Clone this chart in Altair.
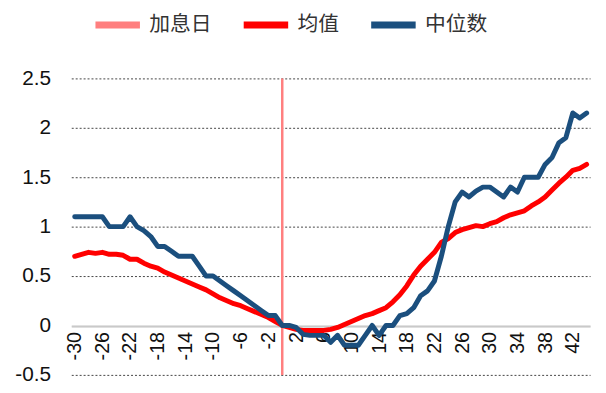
import altair as alt
import pandas as pd

days = list(range(-30, 45))

mean_vals = [
    0.70, 0.72, 0.74, 0.73, 0.74, 0.72, 0.72, 0.71, 0.67, 0.67,
    0.63, 0.60, 0.58, 0.54, 0.51, 0.48, 0.45, 0.42, 0.39, 0.36,
    0.32, 0.28, 0.25, 0.22, 0.20, 0.17, 0.14, 0.11, 0.08, 0.04,
    0.00, -0.02, -0.04, -0.05, -0.05, -0.05, -0.05, -0.04, -0.02, 0.01,
    0.04, 0.07, 0.10, 0.12, 0.15, 0.18, 0.24, 0.31, 0.40, 0.51,
    0.60, 0.67, 0.74, 0.84, 0.88, 0.94, 0.97, 0.99, 1.01, 1.00,
    1.03, 1.05, 1.09, 1.12, 1.14, 1.16, 1.21, 1.25, 1.30, 1.37,
    1.44, 1.50, 1.57, 1.59, 1.63,
]

median_vals = [
    1.10, 1.10, 1.10, 1.10, 1.10, 1.00, 1.00, 1.00, 1.10, 1.00,
    0.96, 0.90, 0.80, 0.80, 0.75, 0.70, 0.70, 0.70, 0.60, 0.50,
    0.50, 0.45, 0.40, 0.35, 0.30, 0.25, 0.20, 0.15, 0.10, 0.10,
    0.00, 0.00, -0.02, -0.09, -0.10, -0.10, -0.10, -0.17, -0.10, -0.20,
    -0.20, -0.20, -0.10, 0.00, -0.10, 0.00, 0.00, 0.10, 0.12, 0.18,
    0.30, 0.35, 0.45, 0.70, 1.00, 1.25, 1.35, 1.30, 1.36, 1.40,
    1.40, 1.35, 1.30, 1.40, 1.35, 1.50, 1.50, 1.50, 1.63, 1.70,
    1.85, 1.90, 2.15, 2.10, 2.15,
]

event_day = [0]

series_names = ["加息日", "均值", "中位数"]
series_colors = ["#FF7F7F", "#FF0000", "#1B4F7E"]
x_ticks = list(range(-30, 43, 4))
y_ticks = [-0.5, 0, 0.5, 1, 1.5, 2, 2.5]

df = pd.DataFrame({"day": days, "均值": mean_vals, "中位数": median_vals})
long_df = df.melt(id_vars="day", var_name="series", value_name="value")
rule_df = pd.DataFrame({"day": event_day, "series": ["加息日"]})

num_font = "Liberation Sans"
cjk_font = "Noto Sans CJK SC"

color = alt.Color(
    "series:N",
    scale=alt.Scale(domain=series_names, range=series_colors),
    legend=alt.Legend(
        title=None,
        orient="none",
        direction="horizontal",
        legendX=21,
        legendY=-80,
        symbolType="stroke",
        symbolSize=2025,
        symbolStrokeWidth=7,
        labelFont=cjk_font,
        labelFontSize=21,
        labelColor="#333333",
        labelOffset=6,
        columnPadding=18,
    ),
)

x_enc = alt.X(
    "day:Q",
    scale=alt.Scale(domain=[-30.5, 44.5], nice=False, zero=False),
    axis=alt.Axis(
        title=None,
        values=x_ticks,
        labelExpr="'' + datum.value",
        labelAngle=270,
        labelFont=num_font,
        labelFontSize=20,
        labelColor="#111111",
        labelPadding=5,
        ticks=False,
        grid=False,
        domain=True,
        domainColor="#BFBFBF",
        domainWidth=1.2,
        offset=-49,
    ),
)

y_enc = alt.Y(
    "value:Q",
    scale=alt.Scale(domain=[-0.5, 2.5], nice=False),
    axis=alt.Axis(
        title=None,
        values=y_ticks,
        labelExpr="'' + datum.value",
        labelFont=num_font,
        labelFontSize=21,
        labelColor="#111111",
        labelPadding=21,
        ticks=False,
        domain=False,
        grid=True,
        gridColor={"condition": {"test": "datum.value === 0", "value": "#C8C8C8"}, "value": "#444444"},
        gridDash={"condition": {"test": "datum.value === 0", "value": []}, "value": [2, 2]},
        gridWidth=1,
    ),
)

rule = alt.Chart(rule_df).mark_rule(strokeWidth=2.5).encode(
    x=x_enc,
    color=color,
)

lines = alt.Chart(long_df).mark_line(strokeWidth=5, strokeCap="round", strokeJoin="round").encode(
    x=x_enc,
    y=y_enc,
    color=color,
    order="day:Q",
)

chart = (
    alt.layer(rule, lines)
    .properties(
        width=525,
        height=300,
        autosize=alt.AutoSizeParams(type="none"),
        padding={"left": 64, "top": 69, "right": 8, "bottom": 8},
        background="white",
    )
    .configure_view(stroke=None)
)

chart.save("out.html", embed_options={"renderer": "svg", "actions": False})
